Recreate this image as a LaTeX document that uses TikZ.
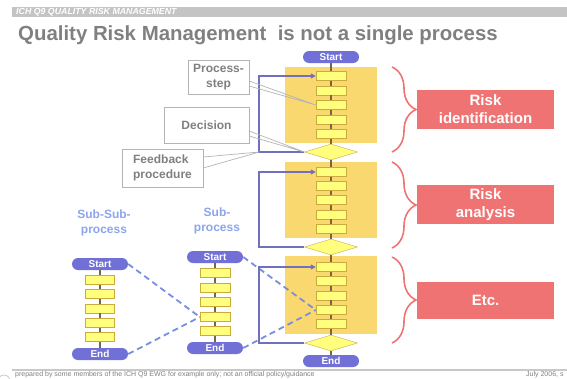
\documentclass[tikz,border=0pt]{standalone}
\usepackage{fontspec}
\setmainfont{Liberation Sans}
\usetikzlibrary{shapes.geometric,arrows.meta,decorations.pathreplacing,calc}
\definecolor{hdrgray}{RGB}{196,196,196}
\definecolor{titlegray}{RGB}{128,128,128}
\definecolor{ovalblue}{RGB}{112,112,214}
\definecolor{blockyel}{RGB}{250,216,112}
\definecolor{boxfill}{RGB}{255,255,125}
\definecolor{boxedge}{RGB}{205,170,60}
\definecolor{spinebrown}{RGB}{120,100,70}
\definecolor{loopblue}{RGB}{112,112,190}
\definecolor{dashblue}{RGB}{120,142,225}
\definecolor{sublblue}{RGB}{140,165,235}
\definecolor{riskred}{RGB}{240,115,115}
\definecolor{calgray}{RGB}{180,180,180}
\definecolor{footgray}{RGB}{200,200,200}
\begin{document}
\begin{tikzpicture}[x=1pt,y=-1pt,
	pstep/.style={draw=boxedge,fill=boxfill,minimum width=30pt,minimum height=9pt,inner sep=0pt},
	decis/.style={diamond,draw=boxedge,fill=boxfill,minimum width=53pt,minimum height=16pt,inner sep=0pt},
	term/.style={fill=ovalblue,rounded corners=6pt,minimum width=56pt,minimum height=12pt,inner sep=0pt,text=white,font=\bfseries\fontsize{10}{10}\selectfont},
	callout/.style={draw=calgray,fill=white,text=titlegray,font=\bfseries\fontsize{12}{15}\selectfont,align=center,inner sep=0pt},
	calline/.style={draw=calgray,line width=.7pt},
	riskbox/.style={fill=riskred,text=white,font=\bfseries\fontsize{15}{18}\selectfont,align=center,minimum width=137pt,minimum height=39pt,inner sep=0pt},
	spine/.style={draw=spinebrown,line width=1.3pt},
	fback/.style={draw=loopblue,line width=1.8pt},
	subline/.style={draw=dashblue,line width=1.8pt,dash pattern=on 6pt off 4pt},
	brc/.style={draw=riskred,line width=1.6pt,decorate,decoration={brace,amplitude=24pt}},
	sublabel/.style={text=sublblue,font=\bfseries\fontsize{12}{15}\selectfont,align=center}]
	\useasboundingbox (0,0) rectangle (567,378);
	% header and title
	\fill[hdrgray] (12,7) rectangle (567,17);
	\node[anchor=west,inner sep=0pt,text=white,font=\bfseries\itshape\fontsize{8.8}{8.8}\selectfont] (hdr) at (16,12) {ICH Q9 QUALITY RISK MANAGEMENT};
	\node[anchor=base west,inner sep=0pt,text=titlegray,font=\bfseries\fontsize{20.4}{20.4}\selectfont] (title) at (18,40) {Quality Risk Management\ \ is not a single process};
	% yellow blocks
	\fill[blockyel] (285,67) rectangle (377,143);
	\fill[blockyel] (285,162) rectangle (377,238);
	\fill[blockyel] (285,256) rectangle (377,334);
	% main process
	\node[term] (mstart) at (331,57) {Start};
	\node[pstep] (s1a) at (331,76) {};	\node[pstep] (s1b) at (331,90.5) {};
	\node[pstep] (s1c) at (331,105) {};	\node[pstep] (s1d) at (331,119.5) {};
	\node[pstep] (s1e) at (331,134) {};
	\node[decis] (d1) at (331,152) {};
	\node[pstep] (s2a) at (331,172) {};	\node[pstep] (s2b) at (331,186) {};
	\node[pstep] (s2c) at (331,200) {};	\node[pstep] (s2d) at (331,214.5) {};
	\node[pstep] (s2e) at (331,229) {};
	\node[decis] (d2) at (331,247) {};
	\node[pstep] (s3a) at (331,267) {};	\node[pstep] (s3b) at (331,281) {};
	\node[pstep] (s3c) at (331,295.5) {};	\node[pstep] (s3d) at (331,310) {};
	\node[pstep] (s3e) at (331,324) {};
	\node[decis] (d3) at (331,343) {};
	\node[term] (mend) at (331,361) {End};
	% sub-sub-process
	\node[sublabel] (sslbl) at (104,223) {Sub-Sub-\\process};
	\node[term] (ssstart) at (100,264) {Start};
	\node[pstep,minimum width=29pt] (ssa) at (100,280) {};	\node[pstep,minimum width=29pt] (ssb) at (100,294) {};
	\node[pstep,minimum width=29pt] (ssc) at (100,308.5) {};	\node[pstep,minimum width=29pt] (ssd) at (100,323) {};
	\node[pstep,minimum width=29pt] (sse) at (100,337) {};
	\node[term] (ssend) at (100,354) {End};
	% sub-process
	\node[sublabel] (sblbl) at (217,221) {Sub-\\process};
	\node[term] (sbstart) at (215,257) {Start};
	\node[pstep] (sba) at (215,273) {};	\node[pstep] (sbb) at (215,288) {};
	\node[pstep] (sbc) at (215,302) {};	\node[pstep] (sbd) at (215,317) {};
	\node[pstep] (sbe) at (215,331) {};
	\node[term] (sbend) at (215,348) {End};
	% spines
	\foreach \a/\b in {mstart/s1a,s1a/s1b,s1b/s1c,s1c/s1d,s1d/s1e,s1e/d1,d1/s2a,s2a/s2b,s2b/s2c,s2c/s2d,s2d/s2e,s2e/d2,d2/s3a,s3a/s3b,s3b/s3c,s3c/s3d,s3d/s3e,s3e/d3,d3/mend,ssstart/ssa,ssa/ssb,ssb/ssc,ssc/ssd,ssd/sse,sse/ssend,sbstart/sba,sba/sbb,sbb/sbc,sbc/sbd,sbd/sbe,sbe/sbend}
		\draw[spine] (\a) -- (\b);
	% dashed links
	\draw[subline] (ssstart.east) -- (sbd.west);
	\draw[subline] (ssend.east) -- (sbd.west);
	\draw[subline] (sbstart.east) -- (s3d.west);
	\draw[subline] (sbend.east) -- (s3d.west);
	% feedback loops
	\draw[fback,-{Triangle[length=5pt,width=5pt]}] (d1.west) -- ++(-45,0) coordinate (fb1) |- (s1a.west);
	\draw[fback,-{Triangle[length=5pt,width=5pt]}] (d2.west) -- ++(-45,0) |- (s2a.west);
	\draw[fback,-{Triangle[length=5pt,width=5pt]}] (d3.west) -- ++(-45,0) |- (s3a.west);
	% callouts
	\node[callout,minimum width=61pt,minimum height=34pt] (pscall) at (218.5,77) {Process-\\step};
	\node[callout,minimum width=85pt,minimum height=36pt] (deccall) at (206.5,125) {Decision};
	\node[callout,minimum width=81pt,minimum height=38pt,align=left] (fbcall) at (162.5,168) {Feedback\\procedure};
	\draw[calline] ($(pscall.east)+(0,4)$) -- (s1c.west) -- ($(pscall.east)+(0,9)$);
	\draw[calline] ($(deccall.east)+(0,6)$) -- (d1.west) -- ($(deccall.east)+(0,11)$);
	\draw[calline] ($(fbcall.east)+(0,-11)$) -- (fb1) -- (fbcall.east);
	% braces and risk boxes
	\draw[brc] (392,67) -- (392,152);
	\draw[brc] (392,162) -- (392,248);
	\draw[brc] (392,257) -- (392,343);
	\node[riskbox] (rident) at (485.5,109.5) {Risk\\identification};
	\node[riskbox] (ranal) at (485.5,204.5) {Risk\\analysis};
	\node[riskbox,minimum height=37pt] (retc) at (485.5,300.5) {Etc.};
	% footer
	\draw[footgray,line width=1.2pt] (12,370) -- (567,370);
	\draw[footgray,line width=.8pt] (4,381) circle (6);
	\node[anchor=base west,inner sep=0pt,text=titlegray,font=\fontsize{7}{7}\selectfont] (foot) at (15,376) {prepared by some members of the ICH Q9 EWG for example only; not an official policy/guidance};
	\node[anchor=base west,inner sep=0pt,text=titlegray,font=\fontsize{7}{7}\selectfont] (fdate) at (526,376) {July 2006, s};
\end{tikzpicture}
\end{document}
